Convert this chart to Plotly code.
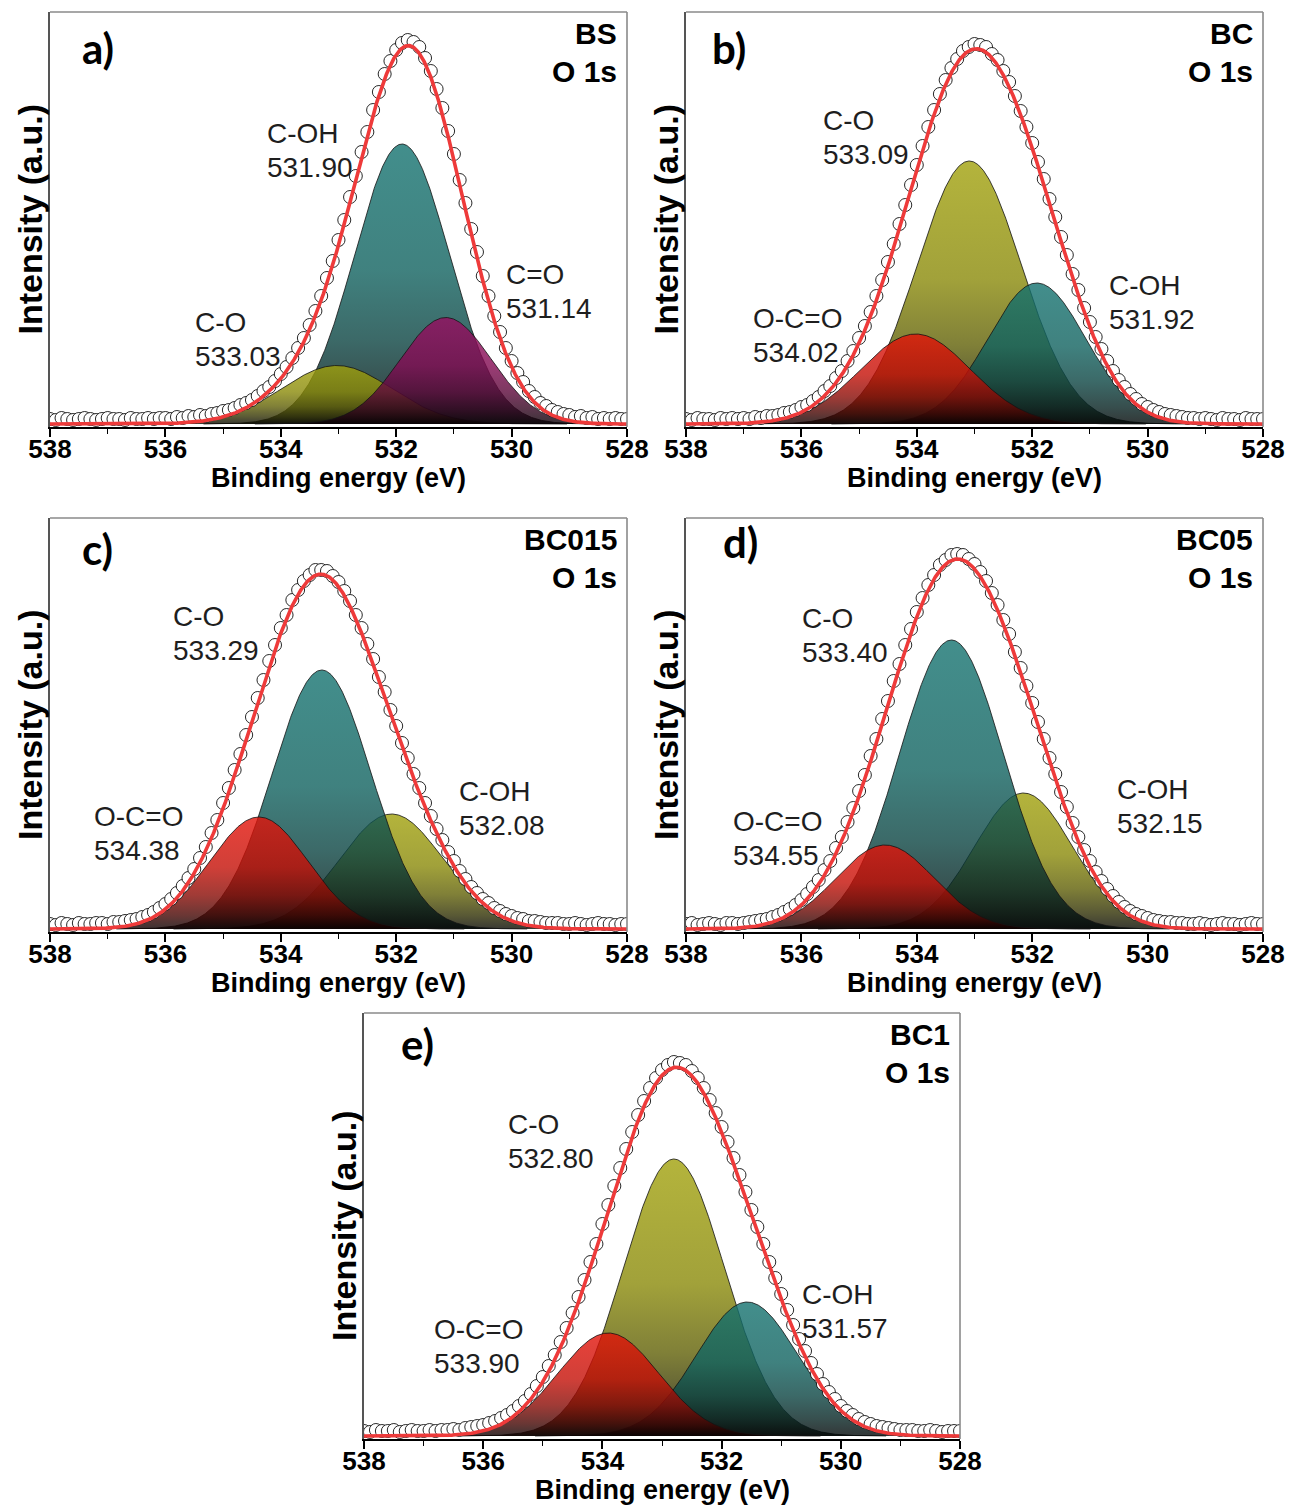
import numpy as np
import plotly.graph_objects as go

W, H = 1290, 1506

# ---------------- data ----------------
sample_names = ["BS", "BC", "BC015", "BC05", "BC1"]
panel_tags = ["a)", "b)", "c)", "d)", "e)"]
core_level = "O 1s"
x_ticks = [538, 536, 534, 532, 530, 528]

# measured O 1s spectra, 538.0 -> 528.0 eV in 0.1 eV steps (a.u.)
energy_meas = np.round(np.arange(538.0, 527.95, -0.1), 2)

bs_counts = [
    5, 4, 6, 5, 4, 5, 6, 5, 4, 5, 6, 5, 5, 4, 6, 5, 5, 6, 5, 6,
    6, 5, 7, 6, 8, 7, 9, 8, 10, 11, 13, 14, 16, 19, 21, 24, 28, 33, 37, 43,
    50, 57, 66, 76, 86, 99, 113, 128, 146, 163, 184, 204, 227, 248, 272, 292, 314, 332, 350, 363,
    374, 381, 384, 382, 377, 366, 353, 335, 316, 293, 270, 244, 221, 195, 172, 148, 128, 108, 92, 76,
    63, 51, 42, 33, 27, 21, 18, 14, 12, 10, 9, 7, 8, 6, 7, 5, 6, 5, 6, 5,
    5]
bc_counts = [
    5, 4, 6, 5, 5, 4, 6, 5, 6, 5, 6, 5, 7, 6, 8, 8, 9, 11, 12, 14,
    17, 19, 23, 27, 33, 38, 46, 53, 63, 73, 86, 98, 112, 128, 144, 162, 180, 200, 219, 239,
    259, 278, 297, 314, 330, 344, 356, 365, 373, 377, 380, 379, 377, 370, 364, 353, 342, 328, 313, 297,
    281, 262, 245, 225, 207, 187, 169, 150, 134, 116, 102, 87, 75, 63, 53, 44, 37, 30, 25, 20,
    17, 14, 12, 10, 9, 8, 7, 6, 6, 5, 6, 5, 4, 6, 5, 5, 4, 6, 5, 5,
    5]
bc015_counts = [
    5, 4, 6, 5, 4, 6, 5, 5, 6, 6, 5, 7, 7, 8, 9, 10, 12, 14, 17, 21,
    25, 30, 36, 43, 51, 60, 71, 82, 96, 109, 126, 141, 159, 175, 194, 212, 231, 249, 268, 284,
    301, 314, 329, 339, 348, 354, 359, 359, 358, 353, 347, 338, 328, 314, 301, 285, 270, 252, 237, 219,
    203, 186, 171, 155, 141, 126, 113, 100, 89, 77, 68, 58, 50, 42, 36, 30, 26, 21, 18, 15,
    13, 11, 10, 8, 8, 7, 6, 6, 6, 5, 5, 6, 5, 4, 5, 6, 5, 5, 4, 5,
    5]
bc05_counts = [
    5, 6, 4, 5, 6, 5, 4, 6, 6, 5, 6, 7, 8, 9, 10, 12, 14, 17, 20, 24,
    29, 35, 42, 49, 59, 68, 81, 92, 107, 121, 138, 154, 173, 190, 210, 228, 248, 265, 284, 300,
    317, 331, 344, 354, 364, 369, 374, 375, 374, 370, 365, 357, 348, 336, 324, 309, 295, 277, 261, 243,
    226, 207, 190, 171, 155, 137, 122, 106, 92, 79, 68, 57, 48, 40, 33, 27, 22, 18, 15, 13,
    11, 9, 8, 7, 7, 6, 6, 5, 5, 6, 5, 4, 5, 6, 5, 5, 4, 5, 6, 5,
    5]
bc1_counts = [
    5, 4, 6, 5, 5, 6, 4, 5, 6, 5, 5, 6, 5, 6, 6, 7, 6, 8, 9, 10,
    11, 13, 15, 18, 21, 25, 30, 35, 42, 50, 59, 70, 81, 94, 108, 123, 139, 156, 174, 192,
    212, 231, 250, 268, 287, 304, 321, 335, 348, 358, 366, 371, 374, 373, 371, 365, 358, 348, 336, 323,
    309, 294, 278, 261, 244, 226, 209, 192, 174, 158, 142, 126, 111, 97, 85, 73, 62, 52, 44, 37,
    30, 25, 21, 17, 14, 12, 10, 9, 8, 7, 6, 6, 6, 5, 5, 6, 5, 4, 5, 5,
    5]

# fitted components: chemical state, peak position (eV), height (a.u.), FWHM (eV)
bs_labels = ["C-O", "C-OH", "C=O"]
bs_pos = [533.03, 531.90, 531.14]
bs_height = [58.5, 280.0, 106.5]
bs_fwhm = [2.24, 1.93, 1.86]

bc_labels = ["O-C=O", "C-O", "C-OH"]
bc_pos = [534.02, 533.09, 531.92]
bc_height = [90.0, 263.0, 141.0]
bc_fwhm = [2.24, 2.12, 2.0]

bc015_labels = ["O-C=O", "C-O", "C-OH"]
bc015_pos = [534.38, 533.29, 532.08]
bc015_height = [112.0, 259.0, 115.0]
bc015_fwhm = [2.0, 2.0, 2.12]

bc05_labels = ["O-C=O", "C-O", "C-OH"]
bc05_pos = [534.55, 533.40, 532.15]
bc05_height = [84.0, 289.0, 136.0]
bc05_fwhm = [2.0, 2.12, 2.0]

bc1_labels = ["O-C=O", "C-O", "C-OH"]
bc1_pos = [533.90, 532.80, 531.57]
bc1_height = [103.0, 277.0, 134.0]
bc1_fwhm = [2.0, 2.0, 2.0]

spectra = [bs_counts, bc_counts, bc015_counts, bc05_counts, bc1_counts]
fits = [
    (bs_labels, bs_pos, bs_height, bs_fwhm),
    (bc_labels, bc_pos, bc_height, bc_fwhm),
    (bc015_labels, bc015_pos, bc015_height, bc015_fwhm),
    (bc05_labels, bc05_pos, bc05_height, bc05_fwhm),
    (bc1_labels, bc1_pos, bc1_height, bc1_fwhm),
]

# ---------------- styling ----------------
FONT = "Liberation Sans, Arial, sans-serif"
TAG_FONT = "Lato, Liberation Sans, sans-serif"
BASE = {"teal": (19, 114, 111), "olive": (161, 161, 11),
        "red": (228, 18, 8), "purple": (152, 12, 96)}
ALPHA = 0.8
comp_colours = [
    ["olive", "teal", "purple"],
    ["red", "olive", "teal"],
    ["red", "teal", "olive"],
    ["red", "teal", "olive"],
    ["red", "olive", "teal"],
]
draw_order = [[1, 0, 2], [1, 2, 0], [2, 1, 0], [2, 1, 0], [1, 2, 0]]

# plot boxes in pixels: left, right, top, bottom, y-range top
boxes = [
    (50, 627, 12, 427, 412),
    (686, 1263, 12, 427, 412),
    (50, 627, 518, 932, 411),
    (686, 1263, 518, 932, 411),
    (364, 960, 1013, 1439, 423),
]
# label anchors (left x, baseline of the value line) in pixels
label_anchor = [
    [(193, 366), (265, 177), (504, 318)],
    [(751, 362), (821, 164), (1107, 329)],
    [(92, 860), (171, 660), (457, 835)],
    [(731, 865), (800, 662), (1115, 833)],
    [(432, 1373), (506, 1168), (800, 1338)],
]
tag_anchor = [(80, 64), (710, 64), (80, 565), (721, 558), (399, 1060)]

FS_LABEL, FS_TAG, FS_NAME = 28, 42, 30
FS_TICK, FS_XTITLE, FS_YTITLE = 26, 27, 34


def gauss(x, c, h, w):
    return h * np.exp(-4 * np.log(2) * (x - c) ** 2 / w ** 2)


def grad_scale(rgb):
    stops = [(0.0, 0.05), (0.12, 0.3), (0.3, 0.6), (0.55, 0.86), (1.0, 1.0)]
    return [[t, "rgba(%d,%d,%d,%.2f)" % (rgb[0] * k, rgb[1] * k, rgb[2] * k, ALPHA)]
            for t, k in stops]


def text_at(x_px, base_px, text, size, family=FONT, xanchor="left", ratio=0.35,
            color="#1e1e1e"):
    return dict(x=x_px / W, y=1 - (base_px - ratio * size) / H, xref="paper", yref="paper",
                text=text, showarrow=False, xanchor=xanchor, yanchor="middle",
                font=dict(family=family, size=size, color=color))


energy = np.linspace(538, 528, 1001)

fig = go.Figure()
annotations = []
shapes = []
layout = {}

for k, ((labels, pos, hgt, fw), counts, box) in enumerate(zip(fits, spectra, boxes)):
    n = k + 1
    xa = "x" if n == 1 else "x%d" % n
    ya = "y" if n == 1 else "y%d" % n
    left, right, top, bottom, ymax = box

    # fitted components (shaded peaks)
    envelope = np.zeros_like(energy)
    for c, h, w in zip(pos, hgt, fw):
        envelope += gauss(energy, c, h, w)

    for i in draw_order[k]:
        c, h, w = pos[i], hgt[i], fw[i]
        sig = w / 2.3548
        m = np.abs(energy - c) <= 4.2 * sig
        fig.add_trace(go.Scatter(
            x=energy[m], y=gauss(energy[m], c, h, w), mode="lines", fill="tozeroy",
            line=dict(color="rgba(20,20,20,0.9)", width=0.9),
            fillgradient=dict(type="vertical", colorscale=grad_scale(BASE[comp_colours[k][i]]),
                              start=0, stop=h),
            xaxis=xa, yaxis=ya, showlegend=False, hoverinfo="skip"))

    # measured spectrum (open circles)
    fig.add_trace(go.Scatter(
        x=energy_meas, y=counts, mode="markers",
        marker=dict(symbol="circle", size=13, color="white",
                    line=dict(color="#111", width=0.9)),
        xaxis=xa, yaxis=ya, showlegend=False, hoverinfo="skip"))
    # fitted envelope
    fig.add_trace(go.Scatter(
        x=energy, y=envelope, mode="lines", line=dict(color="rgb(238,58,58)", width=3.6),
        xaxis=xa, yaxis=ya, showlegend=False, hoverinfo="skip"))

    layout["xaxis" if n == 1 else "xaxis%d" % n] = dict(
        domain=[left / W, right / W], anchor=ya, range=[538, 528],
        tickmode="array", tickvals=x_ticks, ticktext=[str(t) for t in x_ticks],
        ticks="outside", ticklen=8, tickwidth=1.6, tickcolor="black",
        ticklabelstandoff=-10,
        minor=dict(tickmode="linear", tick0=529, dtick=2, ticks="outside", ticklen=5,
                   tickwidth=1.4, tickcolor="black", showgrid=False),
        tickfont=dict(family=FONT, size=FS_TICK, color="black", weight="bold"),
        showline=True, linecolor="black", linewidth=2, showgrid=False, zeroline=False,
        automargin=False)
    layout["yaxis" if n == 1 else "yaxis%d" % n] = dict(
        domain=[1 - bottom / H, 1 - top / H], anchor=xa, range=[-3, ymax],
        showticklabels=False, ticks="", showline=True, linecolor="#555", linewidth=1.6,
        showgrid=False, zeroline=False, automargin=False)

    # top and right frame edges
    for (x0, y0, x1, y1) in [(0, 1, 1, 1), (1, 0, 1, 1)]:
        shapes.append(dict(type="line", xref=xa + " domain", yref=ya + " domain",
                           x0=x0, y0=y0, x1=x1, y1=y1,
                           line=dict(color="#8a8a8a", width=1.6)))

    # component labels
    for i, (lx, lb) in enumerate(label_anchor[k]):
        annotations.append(text_at(lx, lb - 34, labels[i], FS_LABEL))
        annotations.append(text_at(lx, lb, "%.2f" % pos[i], FS_LABEL))

    # panel tag and sample name
    tx, tb = tag_anchor[k]
    annotations.append(text_at(tx, tb, "<b>%s</b>" % panel_tags[k], FS_TAG,
                               family=TAG_FONT, ratio=0.39, color="black"))
    annotations.append(text_at(right - 8, top + 32, "<b>%s</b>" % sample_names[k], FS_NAME,
                               xanchor="right", color="black"))
    annotations.append(text_at(right - 8, top + 70, "<b>%s</b>" % core_level, FS_NAME,
                               xanchor="right", color="black"))

    # axis titles
    annotations.append(text_at((left + right) / 2, bottom + 60, "<b>Binding energy (eV)</b>",
                               FS_XTITLE, xanchor="center", color="black"))
    annotations.append(dict(x=(left - 20) / W, y=1 - (top + bottom) / 2 / H, xref="paper",
                            yref="paper", text="<b>Intensity (a.u.)</b>", textangle=-90,
                            showarrow=False, xanchor="center", yanchor="middle",
                            font=dict(family=FONT, size=FS_YTITLE, color="black")))

fig.update_layout(width=W, height=H,
                  margin=dict(l=0, r=0, t=0, b=0, pad=0, autoexpand=False),
                  paper_bgcolor="white", plot_bgcolor="white",
                  annotations=annotations, shapes=shapes, **layout)
fig.write_html("out.html")
